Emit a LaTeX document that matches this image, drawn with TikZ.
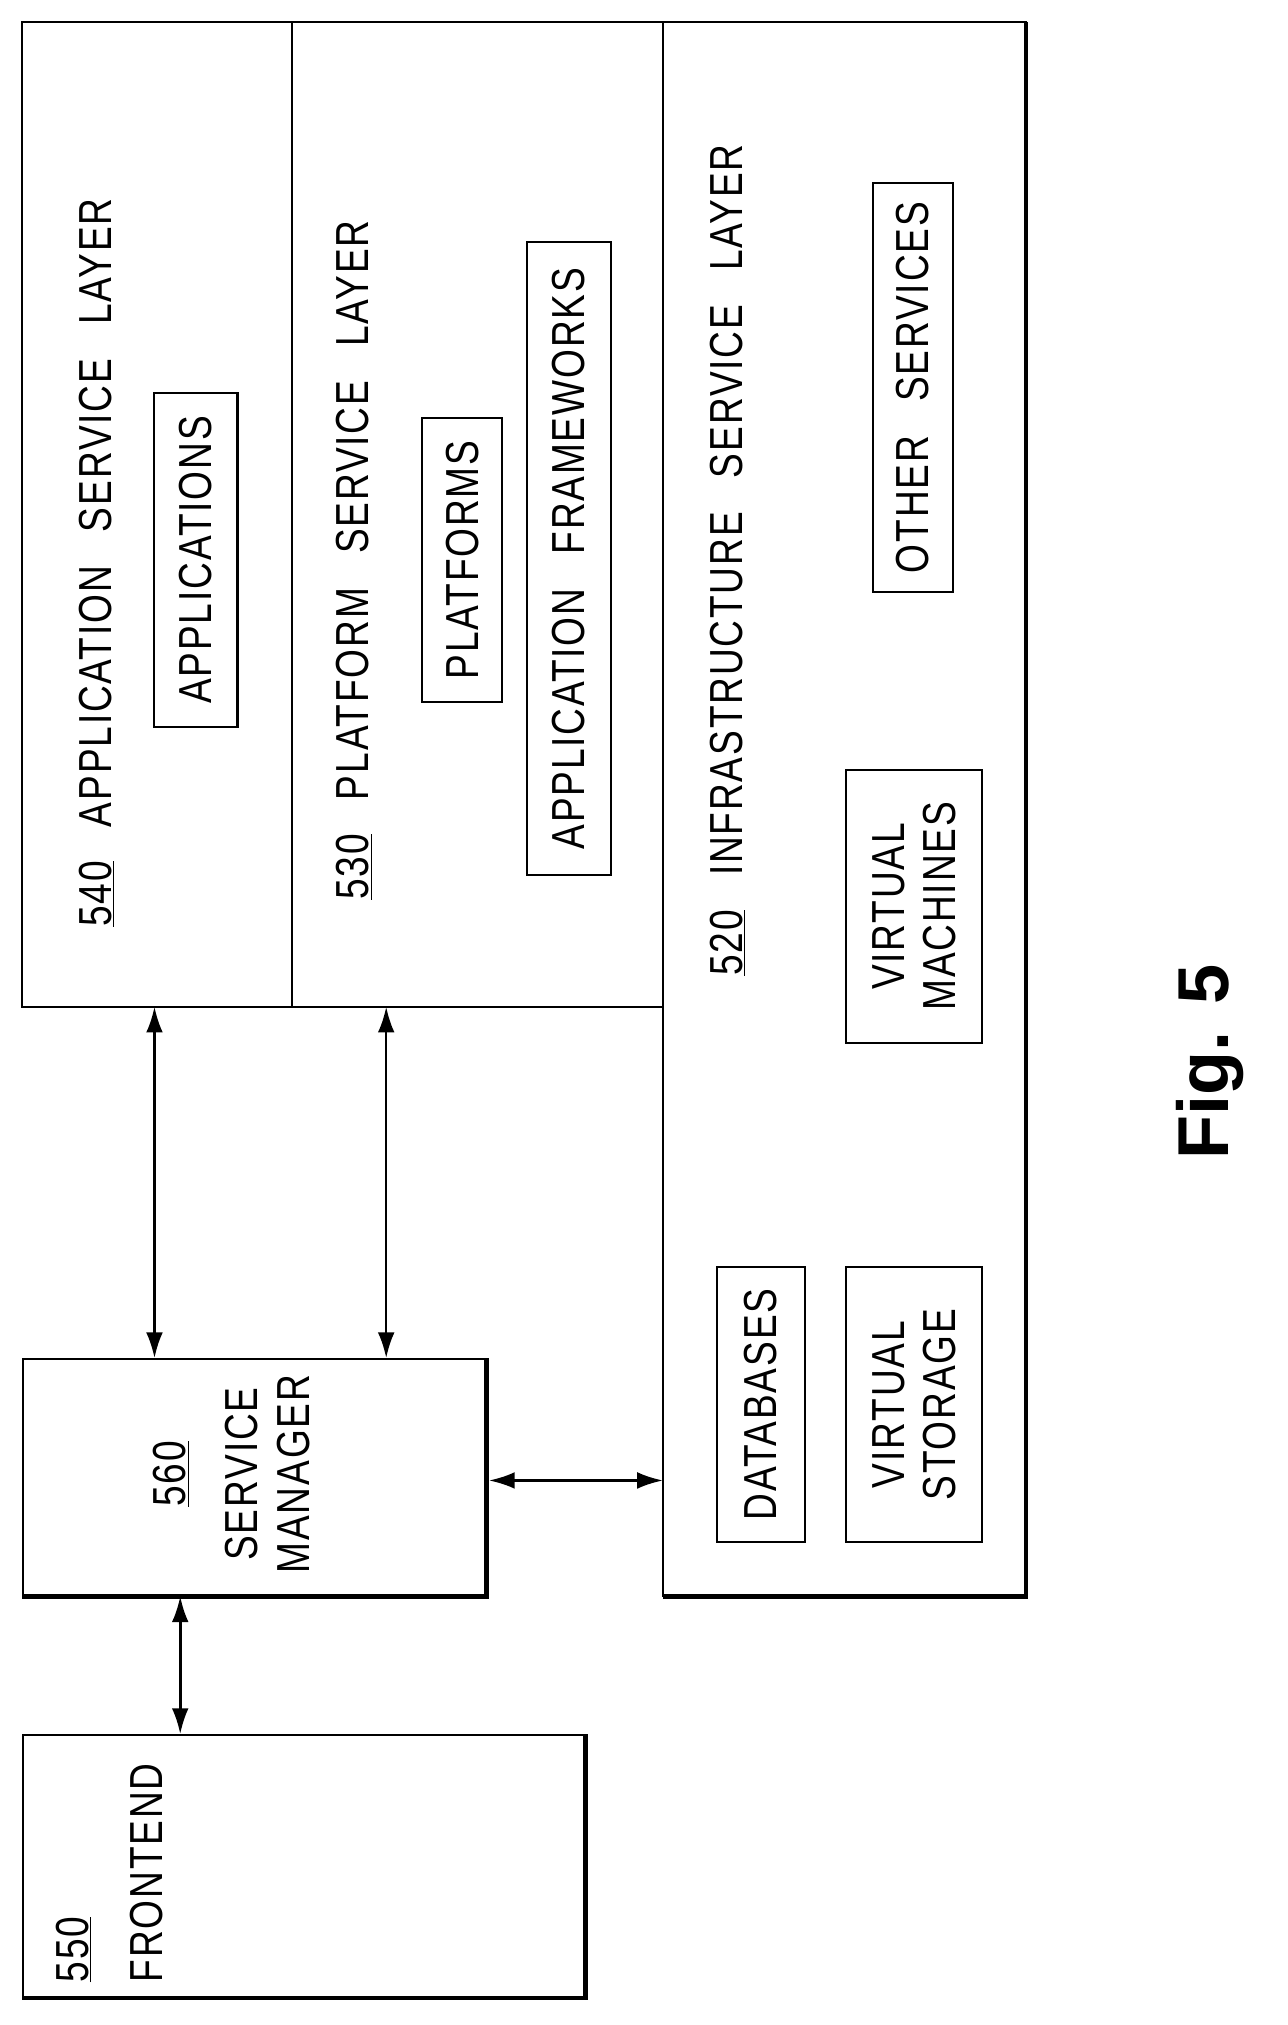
\documentclass[tikz,border=0pt]{standalone}
\usepackage{fontspec}
\setmainfont{Liberation Sans}[FakeStretch=0.8,LetterSpace=4,WordSpace=2.8]
\newfontfamily\figfont{Liberation Sans}
\usetikzlibrary{arrows.meta}
\begin{document}
\begin{tikzpicture}[x=1pt,y=-1pt,
  lbl/.style={rotate=90,font=\fontsize{36}{40}\selectfont,inner sep=0pt},
  ibox/.style={rotate=90,draw,line width=1.6pt,font=\fontsize{36}{40}\selectfont,inner xsep=6pt,inner ysep=4pt},
  arr/.style={line width=2pt,{Latex[length=20pt,width=13pt]}-{Latex[length=20pt,width=13pt]}}]
\useasboundingbox (0,0) rectangle (1000,1573);
% layers
\draw[line width=1.8pt] (17,17) -- (797,17) -- (797,1240) -- (515,1240) -- (515,782) -- (17,782) -- cycle;
\draw[line width=3.5pt] (797,17) -- (797,1240) -- (515,1240);
\draw[line width=1.8pt] (227,17) -- (227,782);
\draw[line width=1.8pt] (515,17) -- (515,782);
\coordinate (app) at (120,782);
\coordinate (plat) at (300,782);
\coordinate (infra) at (515,1150);
% service manager, frontend
\node[draw,line width=1.8pt,minimum width=361pt,minimum height=185pt,anchor=north west] (sm) at (17,1055) {};
\draw[line width=3.5pt] (378,1055) -- (378,1240) -- (17,1240);
\node[draw,line width=1.8pt,minimum width=438pt,minimum height=205pt,anchor=north west] (fe) at (17,1347) {};
\draw[line width=3.5pt] (455,1347) -- (455,1552) -- (17,1552);
% labels
\node[lbl] at (75,437) {\underline{540} APPLICATION SERVICE LAYER};
\node[lbl] at (275,435) {\underline{530} PLATFORM SERVICE LAYER};
\node[lbl] at (565,435) {\underline{520} INFRASTRUCTURE SERVICE LAYER};
\node[ibox,minimum width=260pt,minimum height=65pt] at (152,435) {APPLICATIONS};
\node[ibox,minimum width=220pt,minimum height=62pt] at (359,435) {PLATFORMS};
\node[ibox,minimum width=492pt,minimum height=65pt] at (442,434) {APPLICATION FRAMEWORKS};
\node[ibox,minimum width=318pt,minimum height=62pt] at (709,301) {OTHER SERVICES};
\node[ibox,minimum width=212pt,minimum height=106pt,align=center] at (710,704) {VIRTUAL\\MACHINES};
\node[ibox,minimum width=213pt,minimum height=68pt] at (591,1091) {DATABASES};
\node[ibox,minimum width=213pt,minimum height=106pt,align=center] at (710,1091) {VIRTUAL\\STORAGE};
\node[lbl,align=center] at (180,1145) {\underline{560}\\[16pt]SERVICE\\MANAGER};
\node[lbl,anchor=west,align=left] at (85,1540) {\underline{550}\\[18pt]FRONTEND};
\node[rotate=90,font=\figfont\bfseries\fontsize{56}{60}\selectfont] at (940,825) {Fig. 5};
% arrows
\draw[arr] (app) -- (app|-sm.north);
\draw[arr] (plat) -- (plat|-sm.north);
\draw[arr] (sm.east|-infra) -- (infra);
\draw[arr] (140,1240) -- (140,1347);
\end{tikzpicture}
\end{document}
